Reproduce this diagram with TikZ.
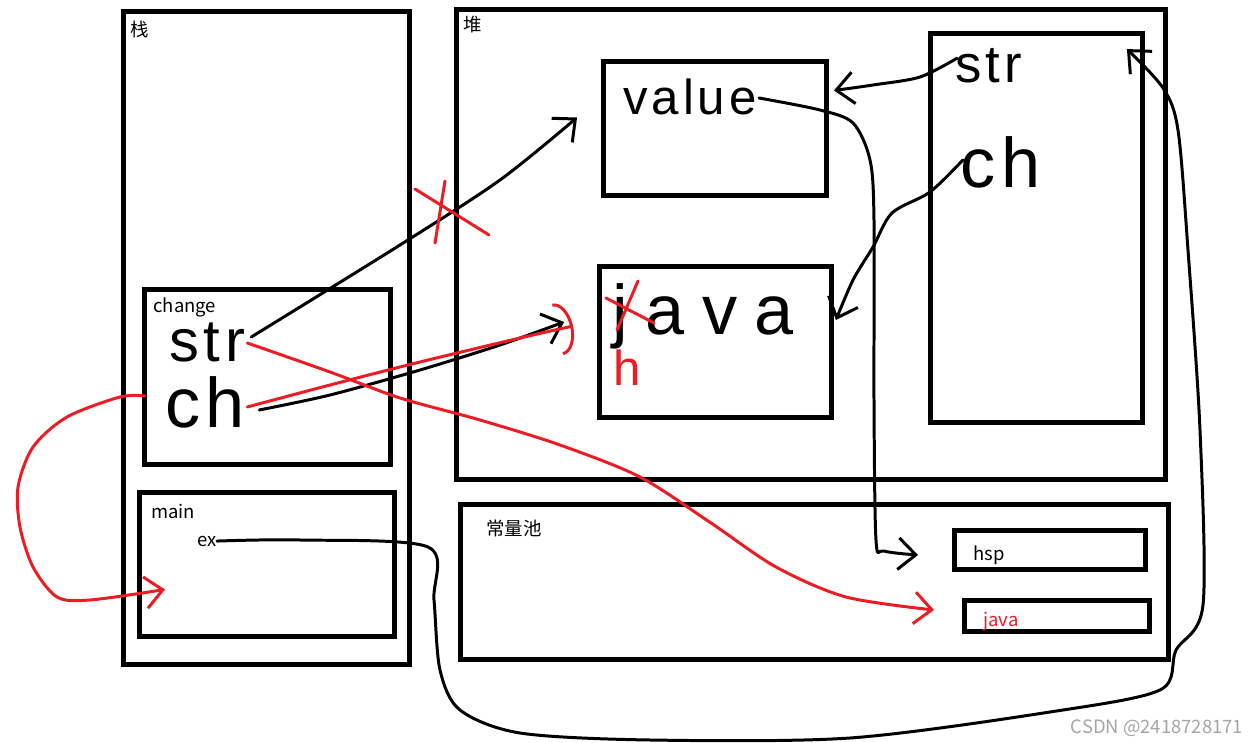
\documentclass[tikz,border=0pt]{standalone}
\usepackage{fontspec}
\setmainfont{Noto Sans CJK SC}
\newfontfamily\handfont[LetterSpace=8]{Liberation Sans}
\usepackage{xcolor}
\usepackage{tikz}
\usetikzlibrary{arrows.meta, calc, positioning}

\definecolor{paintred}{RGB}{237,28,36}
\definecolor{markgray}{RGB}{165,165,165}

\begin{document}
\begin{tikzpicture}[
  x=0.02cm, y=-0.02cm,
  >={Straight Barb[length=10pt,width=18pt]},
  frame/.style={draw=black, line width=2.8pt, inner sep=0pt},
  lbl/.style={inner sep=0pt, anchor=west, font=\fontsize{10.5}{12}\selectfont},
  hand/.style={inner sep=0pt, font=\handfont\fontsize{#1}{#1}\selectfont},
  pen/.style={line width=1.7pt, line cap=round, line join=round},
  redpen/.style={pen, draw=paintred}
]
  \useasboundingbox (0,0) rectangle (1249,743);
  % ----- stack side -----
  \node[frame, minimum width=5.72cm, minimum height=13.06cm] (stack) at (266.5,338) {};
  \node[frame, minimum width=4.92cm, minimum height=3.50cm] (change) at (267.5,377) {};
  \node[frame, minimum width=5.10cm, minimum height=2.88cm] (main) at (267,564.5) {};
  % ----- heap side -----
  \node[frame, minimum width=14.18cm, minimum height=9.40cm] (heap) at (811,244.5) {};
  \node[frame, minimum width=4.46cm, minimum height=2.68cm] (value) at (715,128.5) {};
  \node[frame, minimum width=4.64cm, minimum height=3.02cm] (chars) at (715.5,342) {};
  \node[frame, minimum width=4.24cm, minimum height=7.78cm] (obj) at (1036.5,228) {};
  % ----- constant pool -----
  \node[frame, minimum width=14.16cm, minimum height=3.10cm] (pool) at (814.5,582) {};
  \node[frame, minimum width=3.82cm, minimum height=0.78cm] (hsp) at (1050,550) {};
  \node[frame, minimum width=3.70cm, minimum height=0.62cm] (jstr) at (1057,616) {};

  % ----- printed labels -----
  \node[lbl, anchor=center] (stacklbl) at ($(stack.north west)+(19,20)$) {栈};
  \node[lbl, anchor=center] (heaplbl) at ($(heap.north west)+(18.5,17.5)$) {堆};
  \node[lbl] (changelbl) at ($(change.north west)+(11,20)$) {change};
  \node[lbl] (mainlbl) at ($(main.north west)+(14,21.5)$) {main};
  \node[lbl] (ex) at ($(main.north west)+(60,51)$) {ex};
  \node[lbl] (poollbl) at ($(pool.north west)+(28,26)$) {常量池};
  \node[lbl] (hsplbl) at ($(hsp.west)+(21,5)$) {hsp};
  \node[lbl, text=paintred] (jstrlbl) at ($(jstr.west)+(21,6)$) {java};
  \node[lbl, anchor=center, text=markgray] (mark) at (1157,728) {CSDN @2418728171};

  % ----- hand written names -----
  \node[hand=34] (strL) at (207,342) {str};
  \node[hand=40] (chL) at (205,402) {ch};
  \node[hand=28] (valtxt) at (690,97) {value};
  \node[hand=40, anchor=base west] (jtxt) at (612,335) {\addfontfeature{LetterSpace=25}java};
  \node[hand=28, anchor=base west, text=paintred] (htxt) at (613,386) {h};
  \node[hand=30, anchor=base west] (strR) at (955,83) {str};
  \node[hand=40, anchor=base west] (chR) at (960,188) {ch};

  % ----- change.str and change.ch -----
  \draw[pen,->] plot[smooth] coordinates {($(strL.east)+(6,-5)$) (400,245) (500,180) ($(value.west)+(-24,-11)$)};
  \draw[pen,->] plot[smooth] coordinates {($(chL.east)+(14,8)$) (330,395) (420,370) (500,345) ($(chars.west)+(-33,-20)$)};
  \draw[redpen,-{Arc Barb[length=9pt,width=30pt]}] plot[smooth] coordinates {($(chL.east)+(2,5)$) (330,385) (420,362) (520,338) ($(chars.west)+(-24,-16)$)};
  \draw[redpen,->] plot[smooth] coordinates {($(strL.east)+(2,1)$) (330,372) (400,398) (480,420) (560,445) (640,477) (711,523) (776,567) (846,597) ($(jstr.west)+(-28,-6)$)};
  % ----- back to main -----
  \draw[redpen,->] plot[smooth] coordinates {($(change.west)+(3,19)$) (120,397) (67,417) (33,447) (18,487) (20,527) (33,567) (57,597) (90,600) ($(main.west)+(28,25)$)};
  % ----- object fields -----
  \draw[pen,->] plot[smooth] coordinates {($(valtxt.east)+(2,1)$) (820,110) (853,123) (870,160) (874,220) (874,400) (876,540) (884,551) ($(hsp.west)+(-34,5)$)};
  \draw[pen,->] plot[smooth] coordinates {($(strR.west)+(2,-8)$) (920,77) (873,85) ($(value.east)+(5,-38)$)};
  \draw[pen,->] plot[smooth] coordinates {($(chR.west)+(3,-3)$) (930,192) (892,213) (873,247) (853,280) ($(chars.east)+(2,-22)$)};
  % ----- ex to the object -----
  \draw[pen,->] plot[smooth] coordinates {(ex.east) (300,540) (428,547) (434,600) (440,670) (460,710) (520,733) (650,740) (850,738) (1050,712) (1160,690) (1176,650) (1203,605) (1200,430) (1188,250) (1178,130) (1163,88) ($(obj.north east)+(-18,18)$)};

  % ----- red corrections -----
  \draw[redpen] (415,189) -- (489,235);
  \draw[redpen] (445,181) -- (435,243);
  \draw[redpen] (606,298) -- (654,323);
  \draw[redpen] (638,281) -- (617,330);
\end{tikzpicture}
\end{document}
